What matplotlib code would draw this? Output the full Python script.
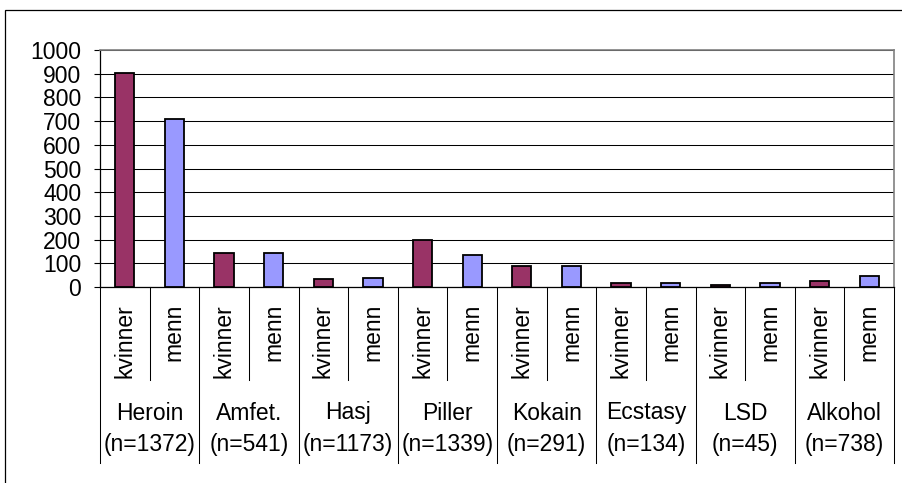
import matplotlib
matplotlib.use("Agg")
import matplotlib.pyplot as plt
import numpy as np
from matplotlib.patches import Rectangle

drugs = ["Heroin", "Amfet.", "Hasj", "Piller", "Kokain", "Ecstasy", "LSD", "Alkohol"]
n_values = [1372, 541, 1173, 1339, 291, 134, 45, 738]
sexes = ["kvinner", "menn"]
kvinner = [905, 142, 32, 198, 88, 15, 7, 24]
menn = [707, 142, 38, 133, 88, 15, 15, 48]
yticks = [0, 100, 200, 300, 400, 500, 600, 700, 800, 900, 1000]

plt.rcParams['font.family'] = ['Liberation Sans', 'DejaVu Sans']
FS = 16.5

W, H = 902, 483
fig = plt.figure(figsize=(W / 100, H / 100), dpi=100)
L, R, T, B = 100, 894, 50, 287
ax = fig.add_axes([L / W, 1 - B / H, (R - L) / W, (B - T) / H])

ng = len(drugs)
xk = np.arange(ng) * 2
xm = xk + 1
bw = 0.39
ax.bar(xk, kvinner, width=bw, color="#993366", edgecolor="black", linewidth=1.3, zorder=3)
ax.bar(xm, menn, width=bw, color="#9999FF", edgecolor="black", linewidth=1.3, zorder=3)

ax.set_xlim(-0.5, 2 * ng - 0.5)
ax.set_ylim(0, 1000)
ax.set_yticks(yticks)
ax.set_yticklabels([str(v) for v in yticks], fontsize=FS)
ax.tick_params(axis='y', direction='out', length=4.5, width=0.8, pad=9, color='black')
ax.set_xticks([])
ax.yaxis.grid(True, color='black', linewidth=0.75, zorder=0)
ax.set_axisbelow(True)
for s in ['left', 'bottom']:
    ax.spines[s].set_color('black')
    ax.spines[s].set_linewidth(0.9)
for s in ['right', 'top']:
    ax.spines[s].set_color('#808080')
    ax.spines[s].set_linewidth(1.2)

trans = ax.get_xaxis_transform()
ph = B - T

def yfrac(py):
    return (B - py) / ph

# separators
for i in range(ng):
    xi = 2 * i + 0.5
    ax.plot([xi, xi], [0, yfrac(380)], transform=trans, color='black', lw=0.75, clip_on=False)
for i in range(ng + 1):
    xg = 2 * i - 0.5
    ax.plot([xg, xg], [0, yfrac(463)], transform=trans, color='black', lw=0.75, clip_on=False)

# inner labels
for i in range(ng):
    for j, s in enumerate(sexes):
        ax.text(2 * i + j, yfrac(304), s, rotation=90, ha='center', va='top',
                transform=trans, fontsize=FS)
    ax.text(2 * i + 0.5, yfrac(413), drugs[i], ha='center', va='center',
            transform=trans, fontsize=FS)
    ax.text(2 * i + 0.5, yfrac(444), f"(n={n_values[i]})", ha='center', va='center',
            transform=trans, fontsize=FS)

# outer frame
fig.patches.append(Rectangle((5 / W, -0.1), 1.2, 1 - 10 / H + 0.1, transform=fig.transFigure,
                             fill=False, edgecolor='black', linewidth=0.9))

fig.savefig("out.png", dpi=100)
